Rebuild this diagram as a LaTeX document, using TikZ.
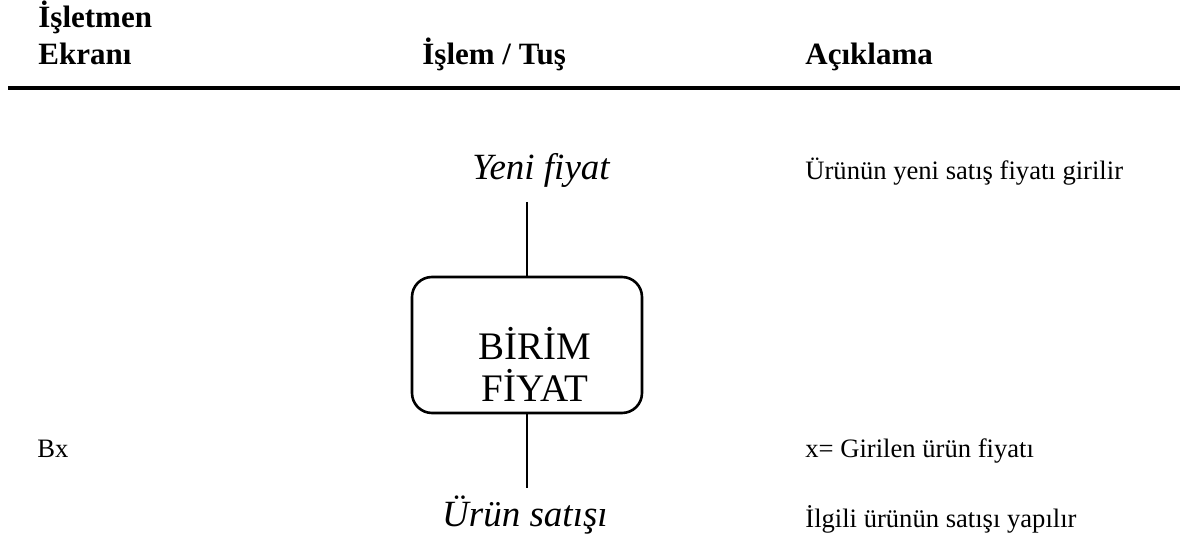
\documentclass[tikz,border=0pt]{standalone}
\usepackage{fontspec}
\setmainfont{Liberation Serif}
\usepackage{tikz}
\usetikzlibrary{positioning}

\begin{document}
\begin{tikzpicture}[x=0.5pt,y=-0.5pt,
    hdr/.style={anchor=base west,inner sep=0pt,font=\fontsize{15.5}{18}\selectfont\bfseries},
    desc/.style={anchor=base west,inner sep=0pt,font=\fontsize{13.3}{16}\selectfont},
    flowlbl/.style={anchor=base,inner sep=0pt,font=\fontsize{18.5}{22}\selectfont\itshape},
    keybox/.style={draw,line width=1.3pt,rounded corners=10pt,minimum width=115pt,minimum height=68pt},
    keytext/.style={align=center,inner sep=0pt,font=\fontsize{19.5}{21}\selectfont},
    wire/.style={line width=1.3pt}]
  \useasboundingbox (0,0) rectangle (1180,544);
  % column heads
  \node[hdr] (hdrscreen) at (38,28) {İşletmen};
  \node[hdr] (hdrscreenb) at (38,65) {Ekranı};
  \node[hdr] (hdrkey) at (422,65) {İşlem / Tuş};
  \node[hdr] (hdrnote) at (805,65) {Açıklama};
  \draw[line width=2.2pt] (8,88) -- (1180,88);
  % key flow
  \node[flowlbl] (newprice) at (541,180) {Yeni fiyat};
  \node[keybox] (unitprice) at (527,345) {};
  \node[keytext] (unitpricetxt) at (535,364) {BİRİM\\FİYAT};
  \node[flowlbl] (sale) at (525,527) {Ürün satışı};
  \coordinate (intop) at (527,202);
  \coordinate (outbot) at (527,488);
  \draw[wire] (intop) -- (unitprice.north);
  \draw[wire] (unitprice.south) -- (outbot);
  % screen and notes
  \node[desc] (screen) at (37,458) {Bx};
  \node[desc] (note1) at (805,180) {Ürünün yeni satış fiyatı girilir};
  \node[desc] (note2) at (805,458) {x= Girilen ürün fiyatı};
  \node[desc] (note3) at (805,528) {İlgili ürünün satışı yapılır};
\end{tikzpicture}
\end{document}
